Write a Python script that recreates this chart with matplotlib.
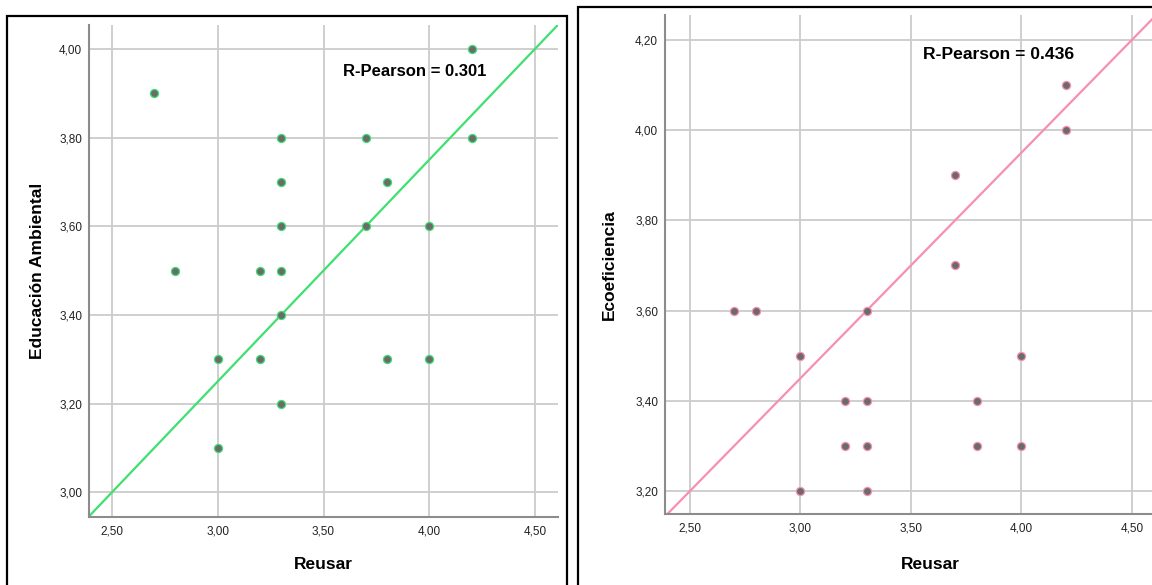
import matplotlib.pyplot as plt
from matplotlib.patches import Rectangle
from matplotlib.ticker import FuncFormatter

plt.rcParams['font.family'] = ['Liberation Sans', 'DejaVu Sans']

# Reusar vs Educación Ambiental
reusar_ea = [4.2, 2.7, 3.3, 3.7, 4.2, 3.3, 3.8, 3.3, 3.7, 4.0,
             2.8, 3.2, 3.3, 3.3, 3.0, 3.2, 3.8, 4.0, 3.3, 3.0]
educacion = [4.0, 3.9, 3.8, 3.8, 3.8, 3.7, 3.7, 3.6, 3.6, 3.6,
             3.5, 3.5, 3.5, 3.4, 3.3, 3.3, 3.3, 3.3, 3.2, 3.1]

# Reusar vs Ecoeficiencia
reusar_eco = [4.2, 4.2, 3.7, 3.7, 2.7, 2.8, 3.3, 3.0, 4.0,
              3.2, 3.3, 3.8, 3.2, 3.3, 3.8, 4.0, 3.0, 3.3]
ecoeficiencia = [4.1, 4.0, 3.9, 3.7, 3.6, 3.6, 3.6, 3.5, 3.5,
                 3.4, 3.4, 3.4, 3.3, 3.3, 3.3, 3.3, 3.2, 3.2]

# fitted lines (slope, intercept) and labels
fit_ea = (0.5, 1.75)
fit_eco = (0.5, 1.95)
r_ea = "R-Pearson = 0.301"
r_eco = "R-Pearson = 0.436"

xticks = [2.5, 3.0, 3.5, 4.0, 4.5]
yticks_ea = [3.0, 3.2, 3.4, 3.6, 3.8, 4.0]
yticks_eco = [3.2, 3.4, 3.6, 3.8, 4.0, 4.2]

W, H = 1152, 585
fig = plt.figure(figsize=(W / 100, H / 100), dpi=100)

# panel frames
fig.patches.append(Rectangle((7 / W, -0.1), 560 / W, 1.1 - 16 / H, transform=fig.transFigure,
                             fill=False, edgecolor='black', linewidth=1.6))
fig.patches.append(Rectangle((578 / W, -0.1), 0.6, 1.1 - 7 / H, transform=fig.transFigure,
                             fill=False, edgecolor='black', linewidth=1.6))

comma = FuncFormatter(lambda v, p: f"{v:.2f}".replace('.', ','))


def panel(rect, xs, ys, fit, color, label, text, txy, tsize, xlim, ylim, yticks, xpad, ypad):
    ax = fig.add_axes(rect)
    ax.set_xlim(*xlim)
    ax.set_ylim(*ylim)
    ax.set_xticks(xticks)
    ax.set_yticks(yticks)
    ax.xaxis.set_major_formatter(comma)
    ax.yaxis.set_major_formatter(comma)
    ax.grid(True, color='#cccccc', linewidth=1.3)
    ax.set_axisbelow(True)
    for s in ['top', 'right']:
        ax.spines[s].set_visible(False)
    for s in ['left', 'bottom']:
        ax.spines[s].set_color('#8c8c8c')
        ax.spines[s].set_linewidth(1.5)
    ax.tick_params(length=0, labelsize=8.5, colors='#222222')
    ax.tick_params(axis='x', pad=6)
    ax.tick_params(axis='y', pad=5)
    m, b = fit
    lx = [xlim[0], xlim[1] + 0.5]
    ax.plot(lx, [m * v + b for v in lx], color=color, linewidth=1.6, zorder=2)
    ax.scatter(xs, ys, s=34, color='#6b6b6b', edgecolors=color, linewidths=0.9, zorder=3)
    ax.text(txy[0], txy[1], text, fontsize=tsize, fontweight='bold', va='center', ha='left')
    ax.set_xlabel("Reusar", fontsize=12.5, fontweight='bold', labelpad=xpad)
    ax.set_ylabel(label, fontsize=12.5, fontweight='bold', labelpad=ypad)
    return ax


# left panel: axes 89..558 px, 25..517 px
panel([89 / W, 1 - 517 / H, 469 / W, 492 / H], reusar_ea, educacion, fit_ea,
      '#3ee070', "Educación Ambiental", r_ea, (3.592, 3.95), 12,
      (2.391, 4.609), (2.944, 4.054), yticks_ea, 14, 10)

# right panel: axes 665..(beyond) px, 15..514 px
panel([665 / W, 1 - 514 / H, 530 / W, 499 / H], reusar_eco, ecoeficiencia, fit_eco,
      '#f78fb5', "Ecoeficiencia", r_eco, (3.555, 4.167), 12.6,
      (2.387, 2.387 + 530 / 221), (3.149, 4.255), yticks_eco, 16, 13)

fig.savefig("out.png", dpi=100)
